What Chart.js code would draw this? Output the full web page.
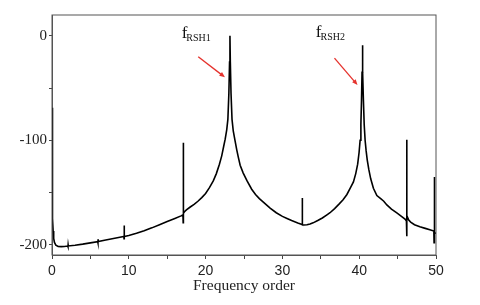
<!DOCTYPE html>
<html>
<head>
<meta charset="utf-8">
<script src="https://cdn.jsdelivr.net/npm/chart.js@4/dist/chart.umd.min.js"></script>
<style>
  html, body { margin: 0; padding: 0; background: #fff; }
  canvas { display: block; }
</style>
</head>
<body>
<canvas id="spectrum" width="480" height="305"></canvas>
<script>
// spectrum (frequency order, amplitude in dB)
const freqOrder = [
  0.00, 0.03, 0.06, 0.10, 0.15, 0.22, 0.32, 0.50, 0.80, 1.20, 1.60,
  2.05, 2.08, 2.10, 2.12, 3.00, 4.00, 5.00,
  5.95, 5.98, 6.00, 6.02, 7.00, 8.00, 9.00,
  9.36, 9.38, 9.40, 9.42, 10.0, 11.0, 12.0, 13.0, 14.0, 15.0, 16.0, 16.8,
  17.05, 17.08, 17.10, 17.12, 17.25, 17.5, 18.0, 18.5, 19.0, 19.5, 20.0, 20.5,
  21.0, 21.4, 21.8, 22.1, 22.35, 22.55, 22.75, 22.90, 23.03, 23.12, 23.17,
  23.22, 23.31, 23.44, 23.6, 23.82, 24.05, 24.25, 24.5, 24.9, 25.4, 26.0,
  26.5, 27.0, 27.7, 28.4, 29.2, 30.0, 30.6, 31.2, 32.0,
  32.56, 32.58, 32.60, 32.62, 32.8, 33.2, 33.6, 34.0, 34.6, 35.2, 35.8,
  36.2, 36.8, 37.4, 37.9, 38.4, 38.9, 39.25, 39.55, 39.8, 39.98, 40.12,
  40.22, 40.30, 40.37, 40.42, 40.47, 40.55, 40.65, 40.77, 40.9, 41.05, 41.25,
  41.5, 41.85, 42.3, 42.8, 43.2, 43.6, 44.2, 44.9, 45.5, 46.0, 46.15,
  46.18, 46.20, 46.22, 46.3, 46.45, 46.7, 47.2, 47.9, 48.6, 49.2, 49.72,
  49.75, 49.77, 49.79, 49.85, 50.0
];
const amplitudeDb = [
  -69, -120, -155, -175, -187, -194, -198, -200.5, -201.8, -202, -201.8,
  -201.4, -202, -200.3, -201.3, -200.6, -199.6, -198.4,
  -197.2, -198.2, -195, -197.1, -195.6, -194.2, -192.8,
  -192.3, -194.4, -181.8, -192.2, -191.4, -189.2, -186.8, -184, -181, -178, -175, -172.5,
  -171.5, -179, -102.5, -170, -168.5, -166.8, -164, -161.5, -158.5, -155, -151, -145.5,
  -139, -132, -123, -115, -106, -99, -90, -80, -55, -25, 0,
  -25, -55, -80, -91, -100, -109, -116, -124, -131.5, -139, -147,
  -152, -156, -160.5, -165, -169.5, -173, -175, -177, -179.3,
  -180.8, -181, -155.3, -181, -181.2, -181, -180.3, -179.2, -177, -174.5, -171.5,
  -169.5, -165.5, -161, -157, -152, -145, -140, -132, -123, -112, -100,
  -85, -62, -35, -9, -35, -62, -85, -100, -110, -119, -128,
  -137, -146, -153, -156, -158.5, -162, -166, -169.7, -173, -175.8, -177.5,
  -192, -99.6, -176, -174, -176.5, -178.5, -181, -183, -184.5, -185.8, -187,
  -198.3, -135.3, -195, -189, -189
];

// axis ticks
const xTickLabels = [0, 10, 20, 30, 40, 50];
const yTickLabels = [0, -100, -200];

// peak annotations: label subscript, label anchor, arrow tail and tip (data units)
const rshNames = ['RSH1', 'RSH2'];
const rshLabelX = [16.88, 34.35];
const rshLabelY = [-2.2, -1.5];
const arrowTailX = [19.04, 36.78];
const arrowTailY = [-20, -21.3];
const arrowTipX = [22.52, 39.78];
const arrowTipY = [-39.7, -47.1];

const points = freqOrder.map((f, i) => ({ x: f, y: amplitudeDb[i] }));

const frameAndNotes = {
  id: 'frameAndNotes',
  afterDraw(chart) {
    const { ctx, chartArea: a, scales: { x, y } } = chart;
    ctx.save();
    // closed frame
    ctx.strokeStyle = '#555';
    ctx.lineWidth = 1;
    ctx.strokeRect(a.left, a.top, a.right - a.left, a.bottom - a.top);

    rshNames.forEach((name, i) => {
      const lx = x.getPixelForValue(rshLabelX[i]);
      const ly = y.getPixelForValue(rshLabelY[i]);
      ctx.fillStyle = '#111';
      ctx.textBaseline = 'alphabetic';
      ctx.textAlign = 'left';
      ctx.font = '17px "Liberation Serif", "Times New Roman", serif';
      ctx.fillText('f', lx, ly);
      const fw = ctx.measureText('f').width;
      ctx.font = '10px "Liberation Serif", "Times New Roman", serif';
      ctx.fillText(name, lx + fw - 1, ly + 2.5);

      // red arrow
      const x0 = x.getPixelForValue(arrowTailX[i]);
      const y0 = y.getPixelForValue(arrowTailY[i]);
      const x1 = x.getPixelForValue(arrowTipX[i]);
      const y1 = y.getPixelForValue(arrowTipY[i]);
      const ang = Math.atan2(y1 - y0, x1 - x0);
      const head = 6;
      ctx.strokeStyle = '#e5322d';
      ctx.fillStyle = '#e5322d';
      ctx.lineWidth = 1.3;
      ctx.beginPath();
      ctx.moveTo(x0, y0);
      ctx.lineTo(x1 - Math.cos(ang) * head * 0.8, y1 - Math.sin(ang) * head * 0.8);
      ctx.stroke();
      ctx.beginPath();
      ctx.moveTo(x1, y1);
      ctx.lineTo(x1 - head * Math.cos(ang - 0.4), y1 - head * Math.sin(ang - 0.4));
      ctx.lineTo(x1 - head * Math.cos(ang + 0.4), y1 - head * Math.sin(ang + 0.4));
      ctx.closePath();
      ctx.fill();
    });
    ctx.restore();
  }
};

Chart.defaults.color = '#222';

new Chart(document.getElementById('spectrum').getContext('2d'), {
  type: 'line',
  data: {
    datasets: [{
      data: points,
      borderColor: '#000',
      borderWidth: 1.6,
      pointRadius: 0,
      tension: 0,
      fill: false
    }]
  },
  options: {
    responsive: false,
    animation: false,
    layout: { padding: { top: 15, right: 44, bottom: 0, left: 0 } },
    plugins: { legend: { display: false }, tooltip: { enabled: false } },
    scales: {
      x: {
        type: 'linear',
        min: 0,
        max: 50,
        grid: { drawOnChartArea: false, tickLength: 4, tickColor: '#444' },
        border: { display: true, color: '#555', width: 1 },
        ticks: {
          stepSize: 5,
          maxRotation: 0,
          padding: 4,
          font: { family: '"Liberation Sans", Arial, sans-serif', size: 14 },
          callback: v => xTickLabels.includes(v) ? String(v) : ''
        },
        title: {
          display: true,
          text: 'Frequency order',
          font: { family: '"Liberation Serif", "Times New Roman", serif', size: 15.5 },
          padding: { top: 0, bottom: 10 }
        },
        afterFit(scale) { scale.height = 50; }
      },
      y: {
        min: -210,
        max: 20,
        grid: { drawOnChartArea: false, tickLength: 3, tickColor: '#444' },
        border: { display: true, color: '#555', width: 1 },
        ticks: {
          stepSize: 50,
          includeBounds: false,
          padding: 2,
          font: { family: '"Liberation Serif", "Times New Roman", serif', size: 15 },
          callback: v => yTickLabels.includes(v) ? String(v) : ''
        },
        afterFit(scale) { scale.width = 52; }
      }
    }
  },
  plugins: [frameAndNotes]
});
</script>
</body>
</html>
